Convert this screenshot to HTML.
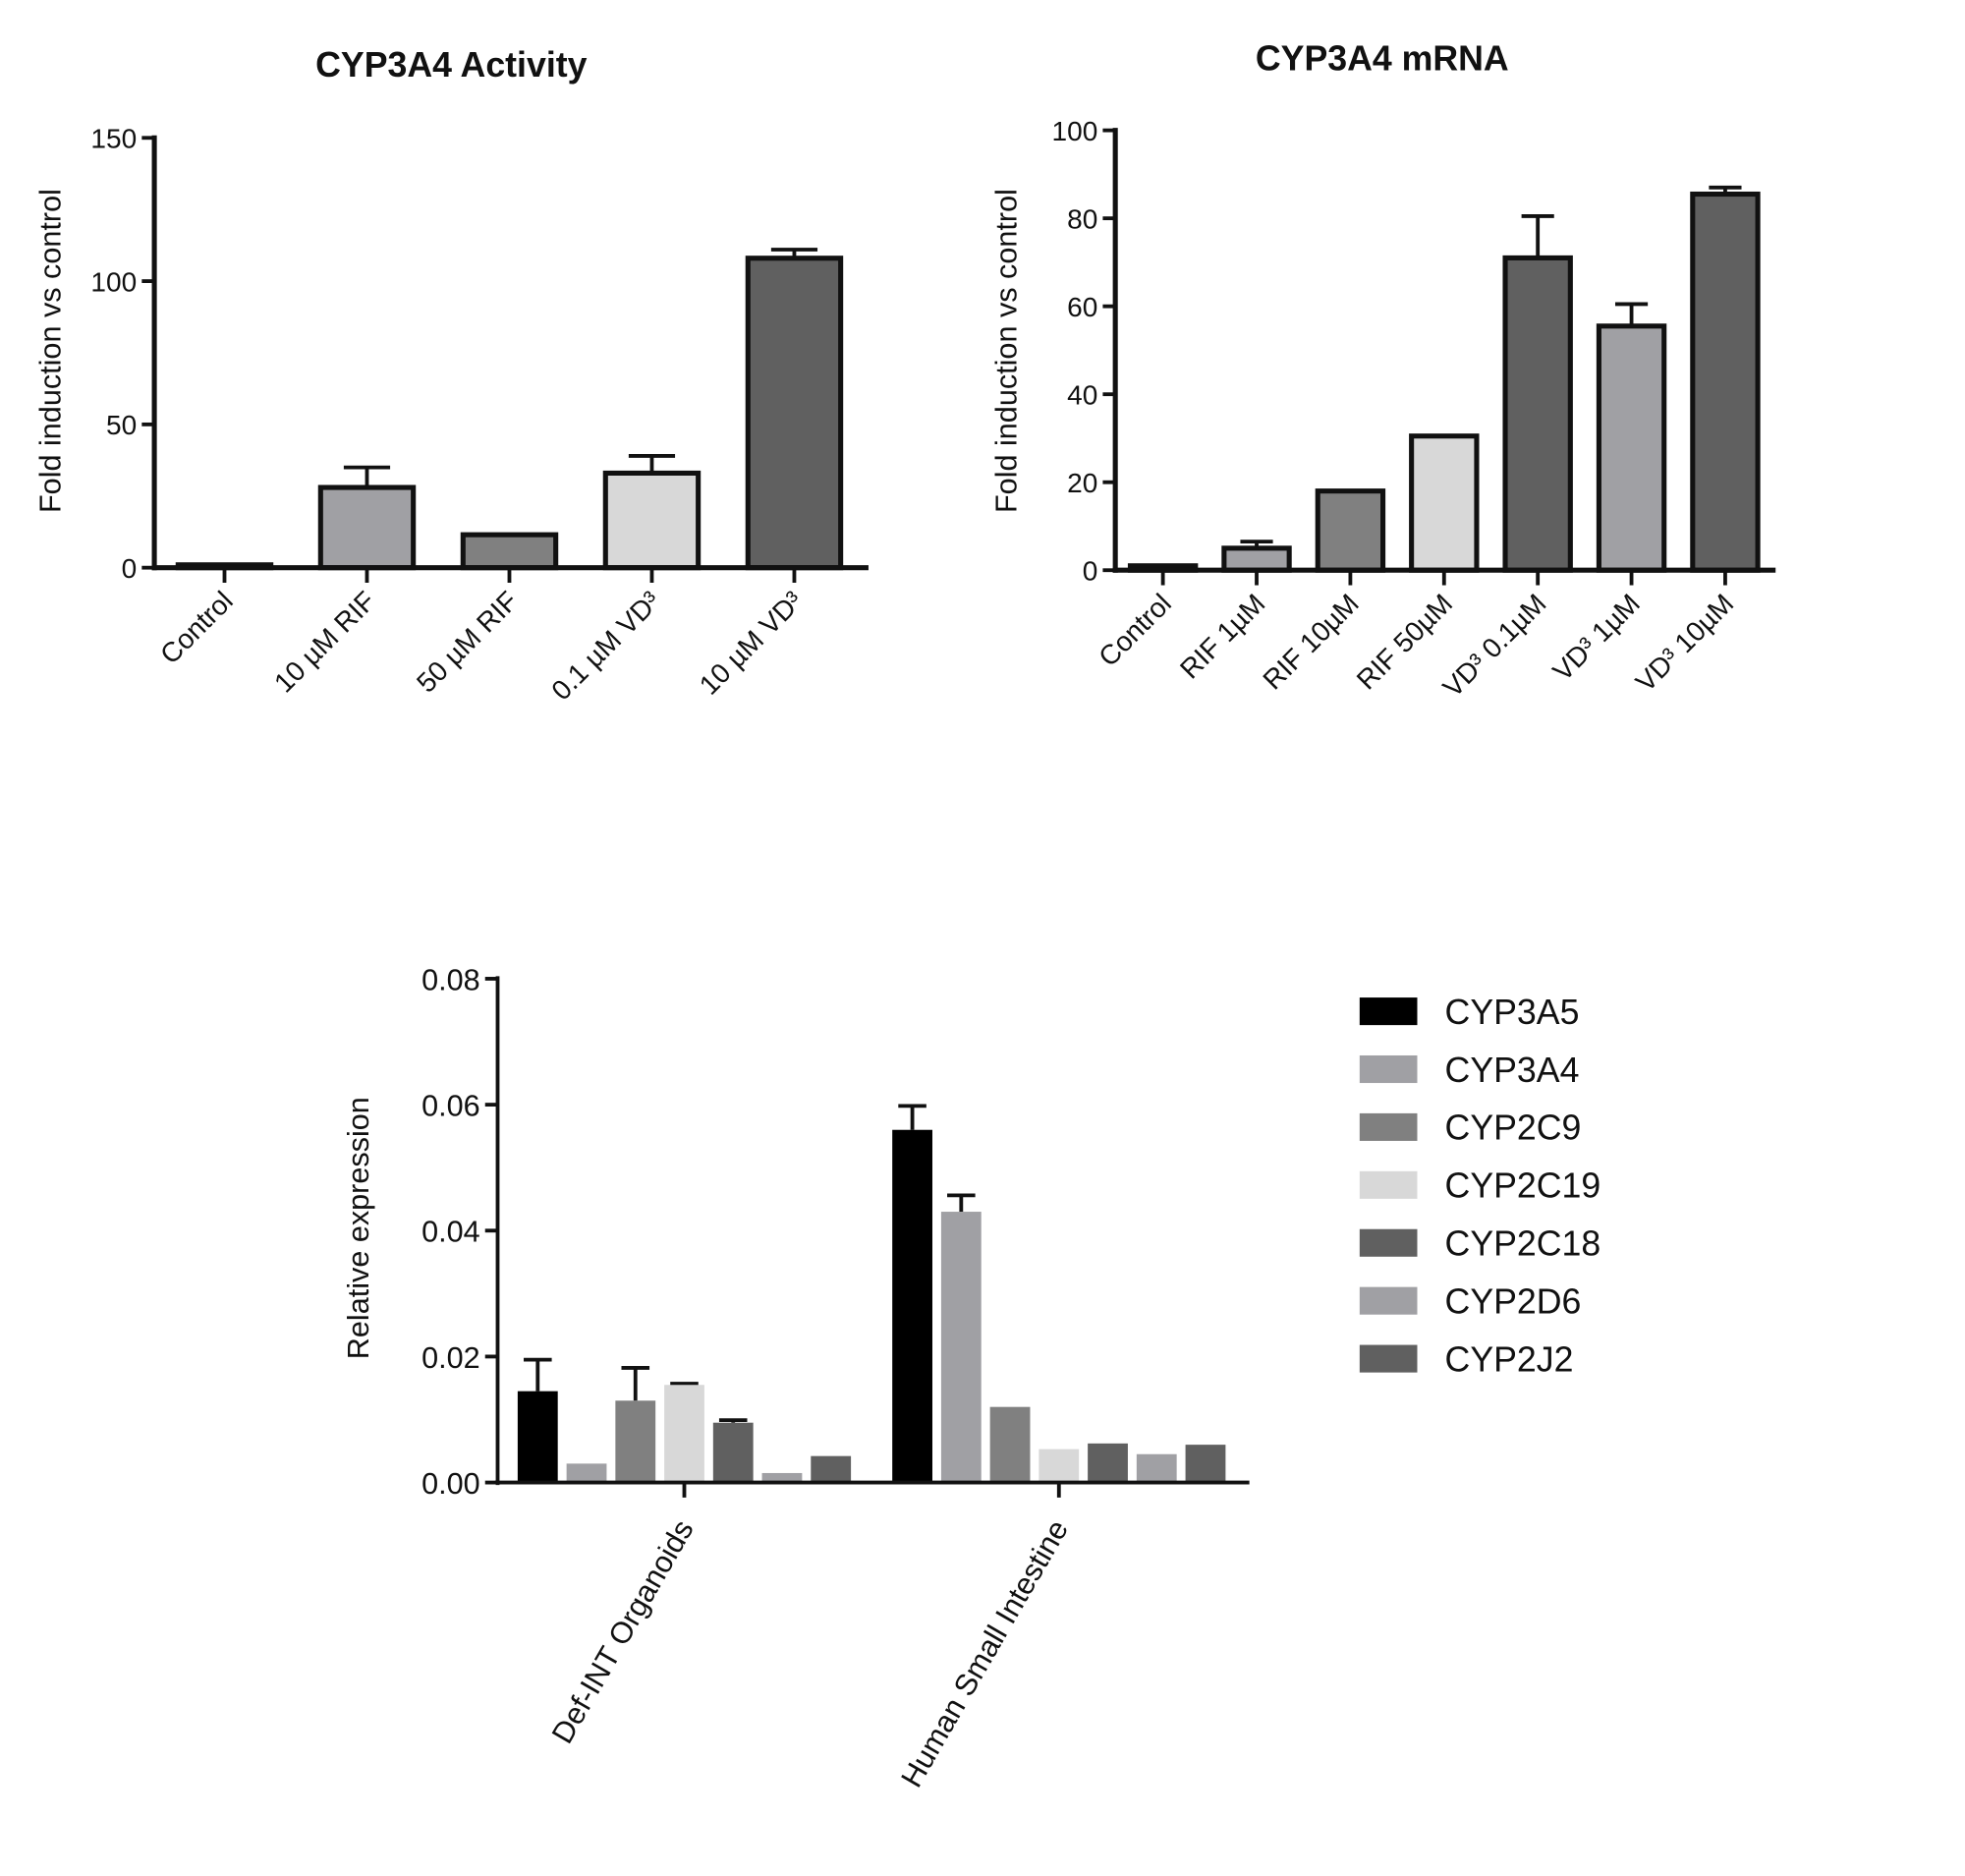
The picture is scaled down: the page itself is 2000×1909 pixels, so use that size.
<!DOCTYPE html>
<html><head><meta charset="utf-8"><style>
html,body{margin:0;padding:0;background:#fff}
svg{display:block}
text{font-family:"Liberation Sans","DejaVu Sans",sans-serif;fill:#111}
</style></head><body>
<svg id="fig" width="2000" height="1909" viewBox="0 0 1568 1497" xmlns="http://www.w3.org/2000/svg">
<text x="360" y="61" font-size="28" text-anchor="middle" font-weight="bold">CYP3A4 Activity</text>
<text x="1103" y="56" font-size="28" text-anchor="middle" font-weight="bold">CYP3A4 mRNA</text>
<text transform="translate(48,280) rotate(-90)" font-size="24" text-anchor="middle">Fold induction vs control</text>
<text transform="translate(811,280) rotate(-90)" font-size="24" text-anchor="middle">Fold induction vs control</text>
<text transform="translate(294,980) rotate(-90)" font-size="24" text-anchor="middle">Relative expression</text>
<g id="c1"></g>
<g id="c2"></g>
<g id="c3"></g>
<g id="legend"></g>
</svg>
<script>
const c1Cats=["Control","10 µM RIF","50 µM RIF","0.1 µM VD³","10 µM VD³"];
const c1Vals=[1,28,11.5,33,108];
const c1Err=[0,35,0,39,111];
const c1Ticks=[0,50,100,150];
const c2Cats=["Control","RIF 1µM","RIF 10µM","RIF 50µM","VD³ 0.1µM","VD³ 1µM","VD³ 10µM"];
const c2Vals=[1,5,18,30.5,71,55.5,85.5];
const c2Err=[0,6.5,0,0,80.5,60.5,87];
const c2Ticks=[0,20,40,60,80,100];
const c3Groups=["Def-INT Organoids","Human Small Intestine"];
const c3Series=["CYP3A5","CYP3A4","CYP2C9","CYP2C19","CYP2C18","CYP2D6","CYP2J2"];
const c3Def=[0.0145,0.003,0.013,0.0155,0.0095,0.0015,0.0042];
const c3DefErr=[0.0195,0,0.0182,0.0157,0.0099,0,0];
const c3Hsi=[0.056,0.043,0.012,0.0053,0.0062,0.0045,0.006];
const c3HsiErr=[0.0598,0.0456,0,0,0,0,0];
const c3Ticks=[0,0.02,0.04,0.06,0.08];
const NS="http://www.w3.org/2000/svg";
function mk(p,t,a){const e=document.createElementNS(NS,t);for(const k in a)e.setAttribute(k,a[k]);p.appendChild(e);return e;}
const c1Col=["#444","#a0a0a4","#808080","#d8d8d8","#606060"];
const c2Col=["#444","#a0a0a4","#808080","#d8d8d8","#606060","#a0a0a4","#606060"];
const sCol=["#000","#a0a0a4","#808080","#d8d8d8","#606060","#a0a0a4","#606060"];

function barChart(g,cats,vals,errs,ticks,cols,o){
  const y=v=>o.y0-(v-ticks[0])/(ticks[ticks.length-1]-ticks[0])*(o.y0-o.y1);
  const x=i=>o.xs+i*o.step;
  cats.forEach((c,i)=>{
    if(errs[i]>vals[i]){
      const l=mk(g,'line',{x1:x(i),x2:x(i),y1:y(vals[i]),y2:y(errs[i]),stroke:'#111','stroke-width':3});
      
      const l2=mk(g,'line',{x1:x(i)-o.w*0.25,x2:x(i)+o.w*0.25,y1:y(errs[i]),y2:y(errs[i]),stroke:'#111','stroke-width':3});
      
    }
    const r=mk(g,'rect',{x:x(i)-o.w/2,y:y(vals[i]),width:o.w,height:Math.max(0,o.y0-y(vals[i])),fill:cols[i],stroke:'#111','stroke-width':4});
    
    const tk=mk(g,'line',{x1:x(i),x2:x(i),y1:o.y0,y2:o.y0+12,stroke:'#111','stroke-width':3});
    
    const t=mk(g,'text',{transform:`translate(${x(i)+8},${o.y0+28}) rotate(-45)`,'text-anchor':'end','font-size':22});
    t.textContent=c;
  });
  ticks.forEach(v=>{
    const l=mk(g,'line',{x1:o.ax-10,x2:o.ax,y1:y(v),y2:y(v),stroke:'#111','stroke-width':3});
    
    const t=mk(g,'text',{x:o.ax-14,y:y(v)+8,'text-anchor':'end','font-size':22});
    t.textContent=o.fmt?o.fmt(v):v;
  });
  const ya=mk(g,'line',{x1:o.ax,x2:o.ax,y1:o.y1-2,y2:o.y0+2,stroke:'#111','stroke-width':4});
  
  const xa=mk(g,'line',{x1:o.ax-2,x2:o.xe,y1:o.y0,y2:o.y0,stroke:'#111','stroke-width':4});
  
}
barChart(document.getElementById('c1'),c1Cats,c1Vals,c1Err,c1Ticks,c1Col,{y0:453,y1:110,xs:179,step:113.7,w:74,ax:123,xe:693});
barChart(document.getElementById('c2'),c2Cats,c2Vals,c2Err,c2Ticks,c2Col,{y0:455,y1:104,xs:928,step:74.8,w:52,ax:890,xe:1417});

// chart 3
(function(){
  const g=document.getElementById('c3');
  const y0=1183,y1=781,ax=397,xe=997;
  const y=v=>y0-v/0.08*(y0-y1);
  const gs=[429,728],step=39,w=32;
  const data=[[c3Def,c3DefErr],[c3Hsi,c3HsiErr]];
  data.forEach((d,gi)=>{
    d[0].forEach((v,i)=>{
      const cx=gs[gi]+i*step;
      if(d[1][i]>v){
        const l=mk(g,'line',{x1:cx,x2:cx,y1:y(v),y2:y(d[1][i]),stroke:'#111','stroke-width':3});
        
        const l2=mk(g,'line',{x1:cx-w*0.35,x2:cx+w*0.35,y1:y(d[1][i]),y2:y(d[1][i]),stroke:'#111','stroke-width':3});
        
      }
      const r=mk(g,'rect',{x:cx-w/2,y:y(v),width:w,height:y0-y(v),fill:sCol[i]});
      
    });
    const tx=gs[gi]+3*step;
    const tk=mk(g,'line',{x1:tx,x2:tx,y1:y0,y2:y0+12,stroke:'#111','stroke-width':3});
    
    const t=mk(g,'text',{transform:`translate(${tx+8},${y0+36}) rotate(-60)`,'text-anchor':'end','font-size':24});
    t.textContent=c3Groups[gi];
  });
  c3Ticks.forEach(v=>{
    const l=mk(g,'line',{x1:ax-10,x2:ax,y1:y(v),y2:y(v),stroke:'#111','stroke-width':3});
    
    const t=mk(g,'text',{x:ax-14,y:y(v)+9,'text-anchor':'end','font-size':24});
    t.textContent=v.toFixed(2);
  });
  const ya=mk(g,'line',{x1:ax,x2:ax,y1:y1-2,y2:y0+2,stroke:'#111','stroke-width':3});
  
  const xa=mk(g,'line',{x1:ax-2,x2:xe,y1:y0,y2:y0,stroke:'#111','stroke-width':3});
  
  const lg=document.getElementById('legend');
  c3Series.forEach((s,i)=>{
    const cy=807+i*46.2;
    const r=mk(lg,'rect',{x:1085,y:cy-11,width:46,height:22,fill:sCol[i]});
    
    const t=mk(lg,'text',{x:1153,y:cy+10,'font-size':28});
    t.textContent=s;
  });
})();
</script>
</body></html>
